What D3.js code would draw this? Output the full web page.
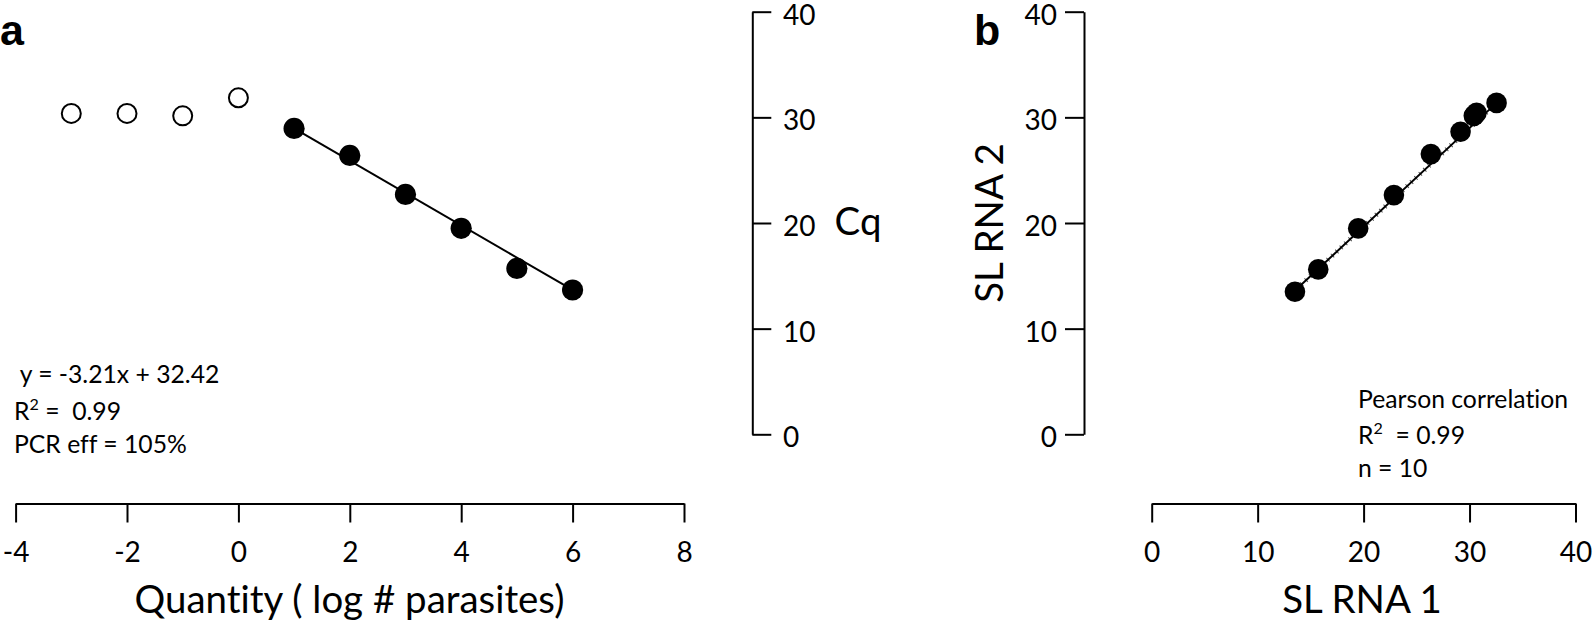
<!DOCTYPE html>
<html>
<head>
<meta charset="utf-8">
<script src="https://cdn.jsdelivr.net/npm/d3@7"></script>
<style>
  html, body { margin: 0; padding: 0; background: #ffffff; }
  svg { display: block; }
  text { font-variant-ligatures: none; font-feature-settings: "liga" 0, "clig" 0; }
</style>
</head>
<body>
<svg id="chart" width="1594" height="624"></svg>
<script>
// ---------------- DATA ----------------
// Panel a: standard curve (Cq vs log quantity)
const quantityExcluded = [-3, -2, -1, 0];
const cqExcluded       = [30.37, 30.37, 30.14, 31.85];
const quantityStd      = [1, 2, 3, 4, 5, 6];
const cqStd            = [28.95, 26.4, 22.7, 19.5, 15.7, 13.66];
const fitQuantity      = [1, 6];
const fitCq            = [28.95, 13.66];
const xTicksA          = [-4, -2, 0, 2, 4, 6, 8];
const yTicksA          = [0, 10, 20, 30, 40];
const annotationA      = [" y = -3.21x + 32.42", "R|2|=  0.99", "PCR eff = 105%"];

// Panel b: SL RNA 1 vs SL RNA 2
const slRna1           = [13.52, 15.72, 19.49, 22.86, 26.35, 29.15, 30.4, 30.66, 30.5, 32.55];
const slRna2           = [13.49, 15.61, 19.49, 22.64, 26.52, 28.63, 30.14, 30.43, 30.25, 31.37];
const fitRna1          = [13.3, 32.55];
const fitRna2          = [13.4, 31.37];
const ticksB           = [0, 10, 20, 30, 40];
const annotationB      = ["Pearson correlation", "R|2| = 0.99", "n = 10"];

// ---------------- SETUP ----------------
const FONT = "Lato, 'Open Sans', sans-serif";
const BOLD_FONT = "'Liberation Sans', Arial, sans-serif";
const svg = d3.select("#chart");

function fitSize(text, target, weight) {
  const t = svg.append("text")
    .attr("font-family", FONT).attr("font-size", 100)
    .attr("font-weight", weight || "normal")
    .attr("xml:space", "preserve").style("white-space", "pre")
    .text(text);
  const w = t.node().getComputedTextLength();
  t.remove();
  return 100 * target / w;
}

const tickFont  = fitSize("30", 32.5);
const titleFont = fitSize("Quantity ( log # parasites)", 430);
const annFont   = fitSize("Pearson correlation", 210);

function styleAxis(g) {
  g.attr("font-family", FONT).attr("font-size", tickFont);
  g.select(".domain").attr("stroke", "#000").attr("stroke-width", 2);
  g.selectAll(".tick line").attr("stroke", "#000").attr("stroke-width", 2);
  g.selectAll(".tick text").attr("fill", "#000");
}

function annotate(lines, x, baselines) {
  lines.forEach((ln, i) => {
    const t = svg.append("text")
      .attr("x", x).attr("y", baselines[i])
      .attr("font-family", FONT).attr("font-size", annFont)
      .attr("fill", "#000")
      .attr("xml:space", "preserve").style("white-space", "pre");
    const parts = ln.split("|");
    if (parts.length === 3) {
      t.append("tspan").text(parts[0]);
      t.append("tspan").attr("font-size", annFont * 0.65).attr("dy", -annFont * 0.42).text(parts[1]);
      t.append("tspan").attr("dy", annFont * 0.42).text(" " + parts[2]);
    } else {
      t.text(ln);
    }
  });
}

// ---------------- PANEL A ----------------
const xA = d3.scaleLinear().domain([-4, 8]).range([15.6, 684]);
const yA = d3.scaleLinear().domain([0, 40]).range([434.3, 11.7]);

const axA = svg.append("g").attr("transform", "translate(0,503.5)")
  .call(d3.axisBottom(xA).tickValues(xTicksA).tickSize(19).tickSizeOuter(0).tickFormat(d => String(d)));
styleAxis(axA);
axA.selectAll(".tick text").attr("y", 58.5).attr("dy", 0);

const ayA = svg.append("g").attr("transform", "translate(752.3,0)")
  .call(d3.axisRight(yA).tickValues(yTicksA).tickSize(19).tickSizeOuter(0).tickFormat(d => String(d)));
styleAxis(ayA);
ayA.selectAll(".tick text").attr("x", 30.7).attr("dy", "0.45em");

// fit line
const lineA = d3.line().x(d => xA(d[0])).y(d => yA(d[1]));
svg.append("path")
  .datum(fitQuantity.map((q, i) => [q, fitCq[i]]))
  .attr("d", lineA).attr("fill", "none").attr("stroke", "#000").attr("stroke-width", 2);

// excluded (open) points
svg.append("g").selectAll("circle")
  .data(quantityExcluded.map((q, i) => [q, cqExcluded[i]]))
  .join("circle")
  .attr("cx", d => xA(d[0])).attr("cy", d => yA(d[1])).attr("r", 9.5)
  .attr("fill", "#fff").attr("stroke", "#000").attr("stroke-width", 2);

// standard (filled) points
svg.append("g").selectAll("circle")
  .data(quantityStd.map((q, i) => [q, cqStd[i]]))
  .join("circle")
  .attr("cx", d => xA(d[0])).attr("cy", d => yA(d[1])).attr("r", 10.6)
  .attr("fill", "#000");

svg.append("text").attr("x", 858).attr("y", 235)
  .attr("text-anchor", "middle")
  .attr("font-family", FONT).attr("font-size", titleFont).attr("fill", "#000").text("Cq");

svg.append("text").attr("x", 349.5).attr("y", 613)
  .attr("text-anchor", "middle")
  .attr("font-family", FONT).attr("font-size", titleFont).attr("fill", "#000")
  .text("Quantity ( log # parasites)");

annotate(annotationA, 14, [383, 420, 453]);

svg.append("text").attr("x", 0).attr("y", 45)
  .attr("font-family", BOLD_FONT).attr("font-weight", "bold").attr("font-size", 43)
  .attr("fill", "#000").text("a");

// ---------------- PANEL B ----------------
const xB = d3.scaleLinear().domain([0, 40]).range([1151.7, 1575.5]);
const yB = d3.scaleLinear().domain([0, 40]).range([434.3, 11.7]);

const axB = svg.append("g").attr("transform", "translate(0,503.5)")
  .call(d3.axisBottom(xB).tickValues(ticksB).tickSize(19).tickSizeOuter(0).tickFormat(d => String(d)));
styleAxis(axB);
axB.selectAll(".tick text").attr("y", 58.5).attr("dy", 0);

const ayB = svg.append("g").attr("transform", "translate(1084,0)")
  .call(d3.axisLeft(yB).tickValues(ticksB).tickSize(19).tickSizeOuter(0).tickFormat(d => String(d)));
styleAxis(ayB);
ayB.selectAll(".tick text").attr("x", -27).attr("dy", "0.45em");

const lineB = d3.line().x(d => xB(d[0])).y(d => yB(d[1]));
const fitB = fitRna1.map((v, i) => [v, fitRna2[i]]);
svg.append("path").datum(fitB).attr("d", lineB)
  .attr("fill", "none").attr("stroke", "#000").attr("stroke-width", 2);
svg.append("path").datum(fitB).attr("d", lineB)
  .attr("fill", "none").attr("stroke", "#000").attr("stroke-width", 5)
  .attr("stroke-dasharray", "1 5").attr("opacity", 0.7);

svg.append("g").selectAll("circle")
  .data(slRna1.map((v, i) => [v, slRna2[i]]))
  .join("circle")
  .attr("cx", d => xB(d[0])).attr("cy", d => yB(d[1])).attr("r", 10.3)
  .attr("fill", "#000");

svg.append("text").attr("x", 1362).attr("y", 613)
  .attr("text-anchor", "middle")
  .attr("font-family", FONT).attr("font-size", titleFont).attr("fill", "#000")
  .text("SL RNA 1");

svg.append("text")
  .attr("transform", "translate(1003,223) rotate(-90)")
  .attr("text-anchor", "middle")
  .attr("font-family", FONT).attr("font-size", titleFont).attr("fill", "#000")
  .text("SL RNA 2");

annotate(annotationB, 1358, [408, 444, 477]);

svg.append("text").attr("x", 974).attr("y", 45)
  .attr("font-family", BOLD_FONT).attr("font-weight", "bold").attr("font-size", 43)
  .attr("fill", "#000").text("b");
</script>
</body>
</html>
